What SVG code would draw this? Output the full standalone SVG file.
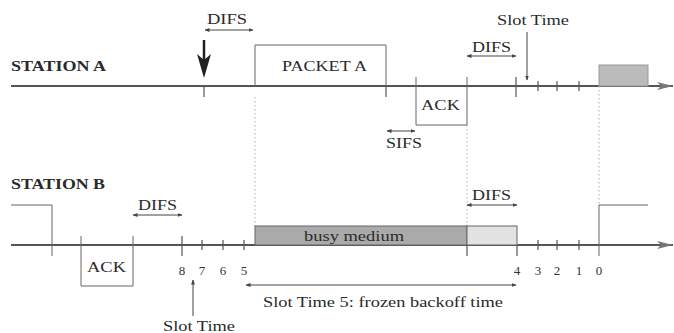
<svg xmlns="http://www.w3.org/2000/svg" width="674" height="333" viewBox="0 0 674 333">
<defs>
<marker id="ah" viewBox="0 0 10 10" refX="9" refY="5" markerWidth="5" markerHeight="5" orient="auto-start-reverse" markerUnits="userSpaceOnUse">
<path d="M0,1 L10,5 L0,9 z" fill="#444"/>
</marker>
<marker id="axh" viewBox="0 0 16 10" refX="16" refY="5" markerWidth="16" markerHeight="10" orient="auto" markerUnits="userSpaceOnUse">
<path d="M0,1 L16,5 L0,9 L4,5 z" fill="#777"/>
</marker>
</defs>
<style>
text{font-family:"Liberation Serif","Times New Roman",serif;font-size:15px;fill:#2a2a2a;}
.lbl{font-weight:bold;font-size:14px;}
.num{font-size:13px;fill:#333;}
.ax{stroke:#555;stroke-width:2;fill:none;}
.bx{stroke:#666;stroke-width:1;fill:none;}
.tk{stroke:#555;stroke-width:1.2;fill:none;}
.dot{stroke:#aaa;stroke-width:1;stroke-dasharray:1.5 2.5;fill:none;}
.dim{stroke:#444;stroke-width:1;fill:none;marker-start:url(#ah);marker-end:url(#ah);}
</style>
<rect width="674" height="333" fill="#fff"/>

<g id="connectors">
<line class="ax" x1="11" y1="86" x2="673" y2="86" marker-end="url(#axh)"/>
<line class="ax" x1="11" y1="245" x2="673" y2="245" marker-end="url(#axh)"/>
<line class="dot" x1="255" y1="97" x2="255" y2="226"/>
<line class="dot" x1="467" y1="125" x2="467" y2="226"/>
<line class="dot" x1="599" y1="86" x2="599" y2="205"/>
<!-- ticks A -->
<line class="tk" x1="204" y1="86" x2="204" y2="97"/>
<line class="tk" x1="386" y1="86" x2="386" y2="97"/>
<line class="tk" x1="516" y1="77" x2="516" y2="97"/>
<line class="tk" x1="538" y1="81" x2="538" y2="91"/>
<line class="tk" x1="557" y1="81" x2="557" y2="91"/>
<line class="tk" x1="579" y1="81" x2="579" y2="91"/>
<!-- ticks B -->
<line class="tk" x1="182" y1="236" x2="182" y2="256"/>
<line class="tk" x1="202" y1="240" x2="202" y2="250"/>
<line class="tk" x1="223" y1="240" x2="223" y2="250"/>
<line class="tk" x1="244" y1="240" x2="244" y2="250"/>
<line class="tk" x1="467" y1="245" x2="467" y2="256"/>
<line class="tk" x1="517" y1="245" x2="517" y2="256"/>
<line class="tk" x1="538" y1="240" x2="538" y2="250"/>
<line class="tk" x1="557" y1="240" x2="557" y2="250"/>
<line class="tk" x1="579" y1="240" x2="579" y2="250"/>
<polyline class="bx" points="11,205 52,205 52,256"/>
<polyline class="bx" points="599,256 599,205 648,205"/>
<!-- dimension arrows -->
<line class="dim" x1="205" y1="30" x2="253" y2="30"/>
<line class="dim" x1="467" y1="56" x2="516" y2="56"/>
<line class="dim" x1="387" y1="131" x2="415" y2="131"/>
<line class="dim" x1="133" y1="215" x2="182" y2="215"/>
<line class="dim" x1="467" y1="205" x2="517" y2="205"/>
<line class="dim" x1="246" y1="285" x2="516" y2="285"/>
<line stroke="#444" stroke-width="1" x1="527" y1="32" x2="527" y2="80" marker-end="url(#ah)"/>
<line stroke="#444" stroke-width="1" x1="193" y1="316" x2="193" y2="280" marker-end="url(#ah)"/>
<line stroke="#222" stroke-width="2.5" x1="204" y1="40" x2="204" y2="60"/>
<polygon points="197,54 204,60 211,54 204,78" fill="#222"/>
</g>

<g id="stationA">
<text class="lbl" x="11" y="71" textLength="95" lengthAdjust="spacingAndGlyphs">STATION A</text>
</g>
<g id="packetA">
<polyline class="bx" points="255,86 255,45 386,45 386,86"/>
<text x="282" y="71" textLength="85" lengthAdjust="spacingAndGlyphs">PACKET A</text>
</g>
<g id="ackA">
<polyline class="bx" points="416,77 416,125 467,125 467,77"/>
<text x="421" y="110" textLength="39" lengthAdjust="spacingAndGlyphs">ACK</text>
</g>
<g id="txA">
<rect x="599" y="65" width="49" height="21" fill="#bbb" stroke="#999" stroke-width="1"/>
</g>
<g id="labelsA">
<text x="207" y="24" textLength="40" lengthAdjust="spacingAndGlyphs">DIFS</text>
<text x="472" y="52" textLength="39" lengthAdjust="spacingAndGlyphs">DIFS</text>
<text x="386" y="148" textLength="36" lengthAdjust="spacingAndGlyphs">SIFS</text>
<text x="497" y="25" textLength="72" lengthAdjust="spacingAndGlyphs">Slot Time</text>
</g>

<g id="stationB">
<text class="lbl" x="11" y="189" textLength="94" lengthAdjust="spacingAndGlyphs">STATION B</text>
</g>
<g id="ackB">
<polyline class="bx" points="81,236 81,286 133,286 133,236"/>
<text x="87" y="272" textLength="39" lengthAdjust="spacingAndGlyphs">ACK</text>
</g>
<g id="busy">
<rect x="255" y="226" width="212" height="19" fill="#aaa" stroke="#666" stroke-width="1"/>
<text x="304" y="241" textLength="100" lengthAdjust="spacingAndGlyphs">busy medium</text>
</g>
<g id="difsB">
<rect x="467" y="226" width="50" height="19" fill="#e2e2e2" stroke="#666" stroke-width="1"/>
</g>
<g id="labelsB">
<text x="138" y="210" textLength="39" lengthAdjust="spacingAndGlyphs">DIFS</text>
<text x="472" y="200" textLength="39" lengthAdjust="spacingAndGlyphs">DIFS</text>
<text class="num" x="182" y="275" text-anchor="middle">8</text>
<text class="num" x="202" y="275" text-anchor="middle">7</text>
<text class="num" x="223" y="275" text-anchor="middle">6</text>
<text class="num" x="244" y="275" text-anchor="middle">5</text>
<text class="num" x="517" y="275" text-anchor="middle">4</text>
<text class="num" x="538" y="275" text-anchor="middle">3</text>
<text class="num" x="557" y="275" text-anchor="middle">2</text>
<text class="num" x="579" y="275" text-anchor="middle">1</text>
<text class="num" x="599" y="275" text-anchor="middle">0</text>
<text x="263" y="307" textLength="240" lengthAdjust="spacingAndGlyphs">Slot Time 5: frozen backoff time</text>
<text x="163" y="331" textLength="72" lengthAdjust="spacingAndGlyphs">Slot Time</text>
</g>
</svg>
